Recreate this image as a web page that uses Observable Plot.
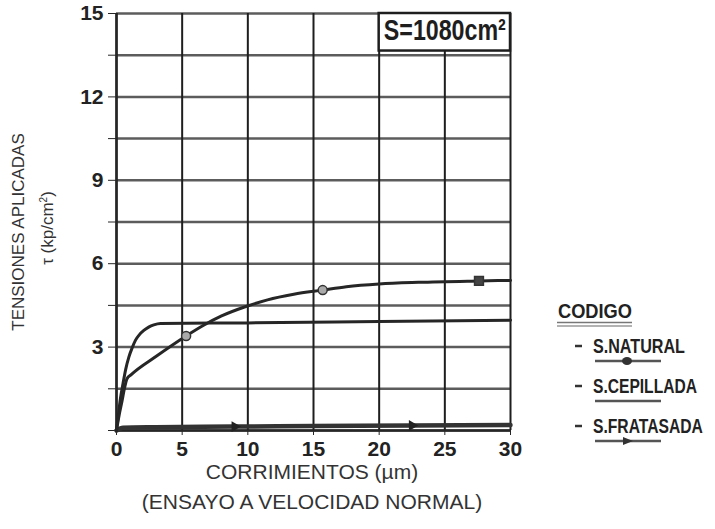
<!DOCTYPE html>
<html>
<head>
<meta charset="utf-8">
<script src="https://cdn.jsdelivr.net/npm/d3@7"></script>
<script src="https://cdn.jsdelivr.net/npm/@observablehq/plot@0.6"></script>
<style>
  html, body { margin: 0; padding: 0; background: #fff; }
  #wrap { position: relative; width: 715px; height: 529px; overflow: hidden; }
  .ttl { position: absolute; font-family: "Liberation Sans", Arial, sans-serif; color: #333; font-size: 18px; white-space: nowrap; }
  #legend { position: absolute; left: 0; top: 0; }
</style>
</head>
<body>
<div id="wrap"></div>
<script>
// ---- data ----
const xTicks = [0, 5, 10, 15, 20, 25, 30];
const yGrid = [0, 1.5, 3, 4.5, 6, 7.5, 9, 10.5, 12, 13.5, 15];
const yLabels = [3, 6, 9, 12, 15];

const naturalX = [0, 0.2, 0.43, 0.6, 0.8, 1.1, 3, 5.3, 6.5, 8, 9.8, 11.5, 13.5, 15.7, 17.5, 20, 23, 27.6, 30];
const naturalY = [0, 0.55, 1.08, 1.5, 1.86, 2.0, 2.66, 3.4, 3.75, 4.12, 4.45, 4.7, 4.9, 5.05, 5.17, 5.27, 5.33, 5.38, 5.4];
const naturalMarkX = [5.3, 15.7];
const naturalMarkY = [3.4, 5.05];
const naturalFilledX = [27.6];
const naturalFilledY = [5.38];

const cepilladaX = [0, 0.15, 0.3, 0.5, 0.7, 0.94, 1.2, 1.45, 1.75, 2.08, 2.45, 2.84, 3.35, 10, 20, 30];
const cepilladaY = [0, 0.6, 1.15, 1.7, 2.2, 2.64, 2.98, 3.25, 3.45, 3.6, 3.72, 3.8, 3.85, 3.87, 3.92, 3.97];

const fratasadaX = [0, 0.5, 3, 9, 15, 22.5, 30];
const fratasadaY = [0, 0.1, 0.12, 0.14, 0.16, 0.18, 0.2];
const fratasadaMarkX = [9, 22.5];
const fratasadaMarkY = [0.14, 0.18];

const boxX = [20, 30];
const boxY = [13.65, 15];
const boxLabel = "S=1080cm²";

const legendTitle = "CODIGO";
const legendLabels = ["S.NATURAL", "S.CEPILLADA", "S.FRATASADA"];
const legendMarkers = ["dot", "none", "arrow"];

// ---- build tables ----
const zip = (xs, ys) => xs.map((x, i) => ({x, y: ys[i]}));
const natural = zip(naturalX, naturalY);
const cepillada = zip(cepilladaX, cepilladaY);
const fratasada = zip(fratasadaX, fratasadaY);
const box = [{x1: boxX[0], x2: boxX[1], y1: boxY[0], y2: boxY[1], label: boxLabel}];

const ink = "#262626";
const font = '"Liberation Sans", Arial, sans-serif';

const chart = Plot.plot({
  width: 715,
  height: 529,
  marginLeft: 116,
  marginRight: 205,
  marginTop: 13,
  marginBottom: 99,
  style: {fontFamily: font, fontWeight: "bold", fontSize: "21px", color: "#222", background: "#fff"},
  x: {domain: [0, 30]},
  y: {domain: [0, 15]},
  marks: [
    Plot.ruleY(yGrid, {stroke: "#5c5c5c", strokeWidth: 2.5}),
    Plot.ruleX(xTicks, {stroke: "#1e1e1e", strokeWidth: 2}),
    Plot.rect(box, {x1: "x1", x2: "x2", y1: "y1", y2: "y2", fill: "#fff", stroke: "#1e1e1e", strokeWidth: 2.5}),
    Plot.text(box, {x: d => (d.x1 + d.x2) / 2, y: d => (d.y1 + d.y2) / 2, text: "label", fontSize: 30, fontWeight: "bold", fill: "#1e1e1e", fontFamily: font, dy: -2, className: "boxlabel"}),
    Plot.axisX({ticks: xTicks, tickSize: 5, tickPadding: 6, label: null, stroke: ink}),
    Plot.axisY({ticks: yGrid, tickSize: 8, tickPadding: 5, label: null, stroke: ink,
                tickFormat: d => yLabels.includes(d) ? String(d) : ""}),
    Plot.ruleX([0], {stroke: ink, strokeWidth: 2.5}),
    Plot.ruleY([0], {stroke: ink, strokeWidth: 2.5}),
    Plot.line(fratasada, {x: "x", y: "y", stroke: "#333", strokeWidth: 4.5, curve: "monotone-x"}),
    Plot.dot(zip(fratasadaMarkX, fratasadaMarkY), {x: "x", y: "y", symbol: "triangle", rotate: 90, r: 4, fill: "#222", stroke: "none"}),
    Plot.line(cepillada, {x: "x", y: "y", stroke: ink, strokeWidth: 3, curve: "monotone-x"}),
    Plot.line(natural, {x: "x", y: "y", stroke: ink, strokeWidth: 3, curve: "monotone-x"}),
    Plot.dot(zip(naturalMarkX, naturalMarkY), {x: "x", y: "y", r: 4.5, fill: "#aaa", stroke: "#333", strokeWidth: 1.5}),
    Plot.dot(zip(naturalFilledX, naturalFilledY), {x: "x", y: "y", r: 5, symbol: "square", fill: "#444", stroke: "#333"})
  ]
});

const wrap = document.getElementById("wrap");
wrap.appendChild(chart);

// condense the box label like the original narrow type
d3.select(chart).selectAll(".boxlabel text")
  .attr("textLength", 122).attr("lengthAdjust", "spacingAndGlyphs");

// axis titles
function addText(html, css) {
  const d = document.createElement("div");
  d.className = "ttl";
  d.innerHTML = html;
  Object.assign(d.style, css);
  wrap.appendChild(d);
  return d;
}
addText("CORRIMIENTOS (µm)", {left: "312px", top: "472px", transform: "translate(-50%,-50%)", fontSize: "21px"});
addText("(ENSAYO A VELOCIDAD NORMAL)", {left: "312px", top: "502px", transform: "translate(-50%,-50%)", fontSize: "21px"});
addText("TENSIONES APLICADAS", {left: "19px", top: "232px", transform: "translate(-50%,-50%) rotate(-90deg)", fontSize: "17px"});
addText("τ (kp/cm<sup style='font-size:10px'>2</sup>)", {left: "48px", top: "228px", transform: "translate(-50%,-50%) rotate(-90deg)", fontSize: "17px"});

// legend (condensed bold type, drawn as its own small SVG)
const lg = d3.select(wrap).append("svg").attr("id", "legend")
  .attr("width", 715).attr("height", 529)
  .style("font-family", font).style("font-weight", "bold").style("pointer-events", "none");
function narrowText(x, y, size, width, str) {
  const g = lg.append("g");
  const t = g.append("text").attr("font-size", size).attr("fill", "#222").text(str);
  const w = t.node().getComputedTextLength() || width;
  g.attr("transform", `translate(${x},${y}) scale(${width / w},1)`);
}
narrowText(558, 318, 21, 74, legendTitle);
lg.append("line").attr("x1", 557).attr("x2", 632).attr("y1", 322.5).attr("y2", 322.5).attr("stroke", "#777").attr("stroke-width", 1.5);
lg.append("line").attr("x1", 557).attr("x2", 632).attr("y1", 326).attr("y2", 326).attr("stroke", "#999").attr("stroke-width", 1.5);
const itemTop = [353, 393, 433];
const itemWidth = [92, 104, 110];
legendLabels.forEach((label, i) => {
  const by = itemTop[i];
  lg.append("line").attr("x1", 575).attr("x2", 582).attr("y1", by - 7).attr("y2", by - 7).attr("stroke", "#333").attr("stroke-width", 2.5);
  narrowText(593, by, 20, itemWidth[i], label);
  const ly = by + 8;
  lg.append("line").attr("x1", 595).attr("x2", 661).attr("y1", ly).attr("y2", ly).attr("stroke", "#555").attr("stroke-width", 2.5);
  if (legendMarkers[i] === "dot") lg.append("ellipse").attr("cx", 627).attr("cy", ly).attr("rx", 5).attr("ry", 4).attr("fill", "#333");
  if (legendMarkers[i] === "arrow") lg.append("path").attr("d", `M623,${ly - 4} L633,${ly} L623,${ly + 4} Z`).attr("fill", "#333");
});
</script>
</body>
</html>
